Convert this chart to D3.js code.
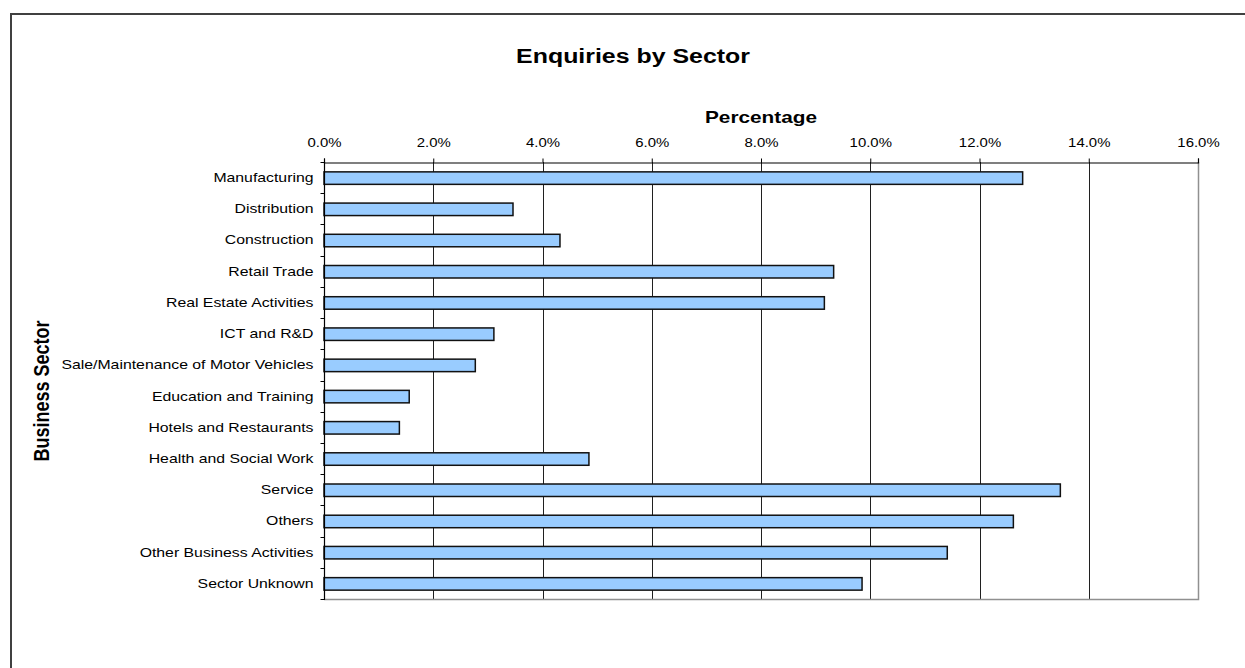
<!DOCTYPE html>
<html>
<head>
<meta charset="utf-8">
<script src="https://cdn.jsdelivr.net/npm/d3@7"></script>
<style>
  html, body { margin: 0; padding: 0; background: #fff; }
  svg { display: block; font-family: "Liberation Sans", Arial, sans-serif; }
</style>
</head>
<body>
<svg id="chart" width="1245" height="668"></svg>
<script>
// Share of enquiries per business sector (percent)
const sectors = [
  "Manufacturing", "Distribution", "Construction", "Retail Trade",
  "Real Estate Activities", "ICT and R&D", "Sale/Maintenance of Motor Vehicles",
  "Education and Training", "Hotels and Restaurants", "Health and Social Work",
  "Service", "Others", "Other Business Activities", "Sector Unknown"
];
const shares = [12.79, 3.46, 4.32, 9.33, 9.16, 3.11, 2.77, 1.56, 1.38, 4.85, 13.48, 12.62, 11.41, 9.85];
const xTicks = [0, 2, 4, 6, 8, 10, 12, 14, 16];

// text in this chart is drawn slightly wide
const stretch = 1.245;

const svg = d3.select("#chart");

// chart frame
svg.append("path")
  .attr("d", "M11,668 L11,14 L1245,14")
  .attr("fill", "none").attr("stroke", "#404040").attr("stroke-width", 2);

const plot = { left: 324, right: 1198, top: 162, bottom: 599 };

const x = d3.scaleLinear().domain([0, 16]).range([plot.left, plot.right]);
const y = d3.scaleBand().domain(sectors).range([plot.top, plot.bottom]).paddingInner(0).paddingOuter(0);

// vertical gridlines
svg.append("g").selectAll("line")
  .data(xTicks.filter(t => t > 0 && t < 16))
  .join("line")
  .attr("x1", d => Math.round(x(d)) + 0.5).attr("x2", d => Math.round(x(d)) + 0.5)
  .attr("y1", plot.top).attr("y2", plot.bottom)
  .attr("stroke", "#202020").attr("stroke-width", 1);

// plot area border (right and bottom)
svg.append("path")
  .attr("d", `M${plot.left},${plot.bottom + 0.5} L${plot.right + 0.5},${plot.bottom + 0.5} L${plot.right + 0.5},${plot.top}`)
  .attr("fill", "none").attr("stroke", "#909090").attr("stroke-width", 1.5);

// bars
const barH = y.bandwidth() * 0.4;
svg.append("g").selectAll("rect")
  .data(sectors.map((s, i) => ({ s, v: shares[i] })))
  .join("rect")
  .attr("x", x(0))
  .attr("y", d => y(d.s) + y.bandwidth() / 2 - barH / 2 + 0.5)
  .attr("width", d => x(d.v) - x(0))
  .attr("height", barH)
  .attr("fill", "#99CCFF")
  .attr("stroke", "#111")
  .attr("stroke-width", 1.5);

// top value axis
const xAxis = svg.append("g")
  .attr("transform", `translate(0,${plot.top + 0.5})`)
  .call(d3.axisTop(x).tickValues(xTicks).tickFormat(d => d.toFixed(1) + "%").tickSize(4).tickPadding(12));
xAxis.select(".domain").attr("stroke", "#000").attr("stroke-width", 1.2);
xAxis.selectAll(".tick line").attr("stroke", "#000");
xAxis.selectAll("text")
  .attr("font-size", 12).attr("fill", "#000")
  .attr("font-family", "'Liberation Sans', Arial, sans-serif")
  .attr("transform", `scale(${stretch},1)`);

// left category axis with ticks between categories
const yAxis = svg.append("g").attr("transform", `translate(${plot.left + 0.5},0)`);
yAxis.append("line")
  .attr("x1", 0).attr("x2", 0).attr("y1", plot.top).attr("y2", plot.bottom + 1)
  .attr("stroke", "#000").attr("stroke-width", 1.2);
const bounds = sectors.map(s => y(s)).concat([plot.bottom]);
yAxis.selectAll("line.tk").data(bounds).join("line").attr("class", "tk")
  .attr("x1", -4).attr("x2", 0)
  .attr("y1", d => Math.round(d) + 0.5).attr("y2", d => Math.round(d) + 0.5)
  .attr("stroke", "#000");
yAxis.selectAll("text").data(sectors).join("text")
  .attr("transform", d => `translate(-11,${y(d) + y.bandwidth() / 2}) scale(${stretch},1)`)
  .attr("dy", "0.35em")
  .attr("text-anchor", "end")
  .attr("font-size", 12.7)
  .attr("fill", "#000")
  .text(d => d);

// titles
svg.append("text")
  .attr("transform", `translate(633,63) scale(${stretch},1)`)
  .attr("text-anchor", "middle")
  .attr("font-size", 20).attr("font-weight", "bold")
  .text("Enquiries by Sector");

svg.append("text")
  .attr("transform", `translate(${(plot.left + plot.right) / 2},123) scale(${stretch},1)`)
  .attr("text-anchor", "middle")
  .attr("font-size", 16.7).attr("font-weight", "bold")
  .text("Percentage");

svg.append("text")
  .attr("transform", `translate(49,391) scale(${stretch},1) rotate(-90)`)
  .attr("text-anchor", "middle")
  .attr("font-size", 18).attr("font-weight", "bold")
  .text("Business Sector");
</script>
</body>
</html>
